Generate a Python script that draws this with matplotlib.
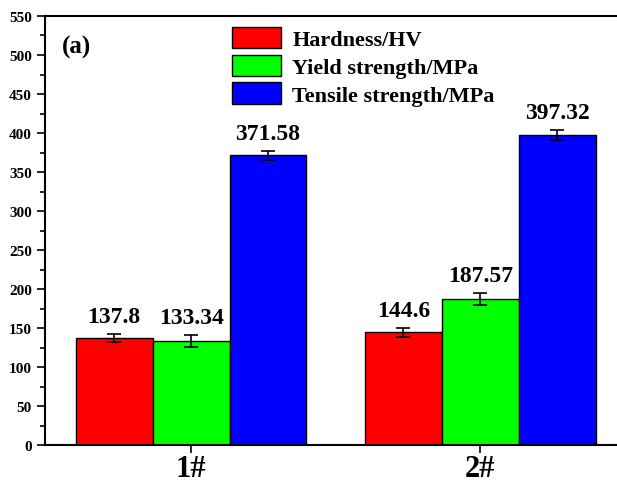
import matplotlib.pyplot as plt
import numpy as np
from matplotlib.ticker import MultipleLocator

plt.rcParams["font.family"] = ["Liberation Serif", "DejaVu Serif"]
plt.rcParams["font.weight"] = "bold"

samples = ["1#", "2#"]
series = ["Hardness/HV", "Yield strength/MPa", "Tensile strength/MPa"]
hardness = [137.8, 144.6]
yield_strength = [133.34, 187.57]
tensile = [371.58, 397.32]
hardness_err = [5.0, 5.5]
yield_err = [8.0, 8.0]
tensile_err = [5.8, 6.4]

colors = ["#ff0000", "#00ff00", "#0000ff"]

fig = plt.figure(figsize=(6.17, 4.85), dpi=100)
ax = fig.add_axes([0.073, 0.080, 0.935, 0.885])

x = np.arange(len(samples))
w = 0.266
vals = [hardness, yield_strength, tensile]
errs = [hardness_err, yield_err, tensile_err]
for i, (v, e, c, name) in enumerate(zip(vals, errs, colors, series)):
    pos = x + (i - 1) * w
    ax.bar(pos, v, w, color=c, edgecolor="black", linewidth=1.0, label=name,
           yerr=e, capsize=5, error_kw=dict(elinewidth=1.2, capthick=1.2, ecolor="black"))
    for px, val, err in zip(pos, v, e):
        ax.annotate(f"{val:g}", (px, val + err), xytext=(0, 5), textcoords="offset points",
                    ha="center", va="bottom", fontsize=17, fontweight="bold")

ax.set_xlim(-0.505, 1.49)
ax.set_ylim(0, 550)
ax.set_xticks(x)
ax.set_xticklabels(samples, fontsize=22, fontweight="bold")
ax.yaxis.set_major_locator(MultipleLocator(50))
ax.yaxis.set_minor_locator(MultipleLocator(25))
ax.tick_params(axis="y", which="major", direction="out", length=6, width=1.2, labelsize=11)
ax.tick_params(axis="y", which="minor", direction="out", length=3.5, width=1.2)
ax.tick_params(axis="x", direction="out", length=6, width=1.2, pad=0)
for s in ["left", "bottom", "top"]:
    ax.spines[s].set_linewidth(1.5)
ax.spines["right"].set_visible(False)

ax.text(0.03, 0.93, "(a)", transform=ax.transAxes, fontsize=18, fontweight="bold",
        va="center", ha="left")

leg = ax.legend(loc="upper left", bbox_to_anchor=(0.309, 0.995), frameon=False,
                fontsize=16, handlelength=2.2, handleheight=1.1, labelspacing=0.2,
                handletextpad=0.5, borderaxespad=0)

fig.savefig("out.png", dpi=100)
